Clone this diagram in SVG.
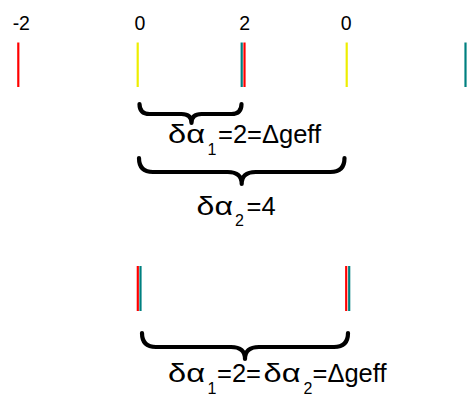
<svg xmlns="http://www.w3.org/2000/svg" width="475" height="396" viewBox="0 0 475 396">
<style>
.tick{stroke-width:2.2;fill:none}
.r{stroke:#ff0000}
.y{stroke:#eeee00}
.t{stroke:#008080}
.brace{fill:none;stroke:#000;stroke-width:4.2;stroke-linecap:round;stroke-linejoin:round}
.num{font-family:"Liberation Sans",Arial,sans-serif;font-size:19.5px;fill:#000;text-anchor:middle}
.lbl{font-family:"Liberation Sans",Arial,sans-serif;font-size:25.5px;fill:#000}
.gr{font-family:"Liberation Sans",Arial,sans-serif;font-size:26px;fill:#000}
.sub{font-family:"Liberation Sans",Arial,sans-serif;font-size:16px;fill:#000}
</style>
<rect width="475" height="396" fill="#fff"/>
<g id="top-row">
  <g id="tick-m2"><line class="tick r" x1="18.3" y1="42.5" x2="18.3" y2="87"/><text class="num" x="21.3" y="29.5">-2</text></g>
  <g id="tick-0a"><line class="tick y" x1="137.7" y1="42.5" x2="137.7" y2="87"/><text class="num" x="140" y="29.5">0</text></g>
  <g id="tick-2"><line class="tick t" x1="241.7" y1="42.5" x2="241.7" y2="87"/><line class="tick r" x1="244.5" y1="42.5" x2="244.5" y2="87"/><text class="num" x="244.6" y="29.5">2</text></g>
  <g id="tick-0b"><line class="tick y" x1="346.7" y1="42.5" x2="346.7" y2="87"/><text class="num" x="346.2" y="29.5">0</text></g>
  <g id="tick-right"><line class="tick t" x1="465.5" y1="42.5" x2="465.5" y2="87"/></g>
</g>
<g id="connectors">
  <path id="brace1" class="brace" d="M139.5 104 Q139.5 114 149.5 114 L181.5 114 Q191.5 114 191.5 123 Q191.5 114 201.5 114 L231.5 114 Q241.5 114 241.5 104"/>
  <path id="brace2" class="brace" d="M139 158 Q139 172 153 172 L227.7 172 Q241.7 172 241.7 184 Q241.7 172 255.7 172 L330.5 172 Q344.5 172 344.5 158"/>
  <path id="brace3" class="brace" d="M142 333 Q142 347 156 347 L231 347 Q245 347 245 359 Q245 347 259 347 L334 347 Q348 347 348 333"/>
</g>
<g id="label1">
  <text class="gr" x="168" y="143" textLength="37" lengthAdjust="spacingAndGlyphs">δα</text>
  <text class="sub" x="207.5" y="154.5">1</text>
  <text class="lbl" x="218" y="143">=2=Δgeff</text>
</g>
<g id="label2">
  <text class="gr" x="196.5" y="215" textLength="36.5" lengthAdjust="spacingAndGlyphs">δα</text>
  <text class="sub" x="235" y="226">2</text>
  <text class="lbl" x="246.5" y="215">=4</text>
</g>
<g id="bottom-row">
  <g id="tick-b1"><line class="tick r" x1="137.8" y1="266" x2="137.8" y2="311"/><line class="tick t" x1="140.5" y1="266" x2="140.5" y2="311"/></g>
  <g id="tick-b2"><line class="tick r" x1="346.2" y1="266" x2="346.2" y2="311"/><line class="tick t" x1="349.2" y1="266" x2="349.2" y2="311"/></g>
</g>
<g id="label3">
  <text class="gr" x="168" y="382" textLength="37" lengthAdjust="spacingAndGlyphs">δα</text>
  <text class="sub" x="207.5" y="393.5">1</text>
  <text class="lbl" x="217" y="382">=2=</text>
  <text class="gr" x="263.5" y="382" textLength="37" lengthAdjust="spacingAndGlyphs">δα</text>
  <text class="sub" x="303.5" y="393.5">2</text>
  <text class="lbl" x="312.5" y="382">=Δgeff</text>
</g>
</svg>
